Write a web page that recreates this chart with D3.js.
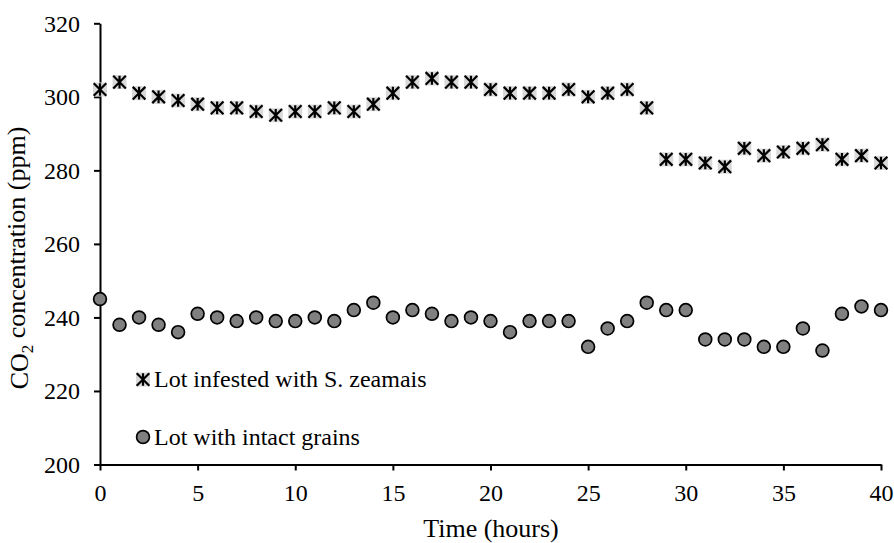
<!DOCTYPE html>
<html>
<head>
<meta charset="utf-8">
<script src="https://cdn.jsdelivr.net/npm/d3@7"></script>
<style>
  html, body { margin: 0; padding: 0; background: #fff; }
  svg { display: block; }
  svg text { font-family: "Liberation Serif", "Times New Roman", serif; fill: #000; }
</style>
</head>
<body>
<svg id="chart" width="894" height="543"></svg>
<script>
// ---- data ----
const hours = [0,1,2,3,4,5,6,7,8,9,10,11,12,13,14,15,16,17,18,19,20,21,22,23,24,25,26,27,28,29,30,31,32,33,34,35,36,37,38,39,40];
const infested = [302,304,301,300,299,298,297,297,296,295,296,296,297,296,298,301,304,305,304,304,302,301,301,301,302,300,301,302,297,283,283,282,281,286,284,285,286,287,283,284,282];
const intact = [245,238,240,238,236,241,240,239,240,239,239,240,239,242,244,240,242,241,239,240,239,236,239,239,239,232,237,239,244,242,242,234,234,234,232,232,237,231,241,243,242];
const xTicks = [0,5,10,15,20,25,30,35,40];
const yTicks = [200,220,240,260,280,300,320];
const seriesNames = ["Lot infested with S. zeamais", "Lot with intact grains"];

// ---- layout ----
const FONT = '"Liberation Serif", "Times New Roman", serif';
const svg = d3.select("#chart");
const x = d3.scaleLinear().domain([0, 40]).range([100, 881]);
const y = d3.scaleLinear().domain([200, 320]).range([464.5, 23.3]);

// axes
const yAxis = svg.append("g")
  .attr("transform", `translate(${x(0)},0)`)
  .call(d3.axisLeft(y).tickValues(yTicks).tickSize(6).tickSizeOuter(0).tickPadding(14));
const xAxis = svg.append("g")
  .attr("transform", `translate(0,${y(200)})`)
  .call(d3.axisBottom(x).tickValues(xTicks).tickSize(6).tickSizeOuter(0).tickPadding(13));

[yAxis, xAxis].forEach(g => {
  g.attr("font-family", FONT).attr("font-size", 24);
  g.select(".domain").attr("stroke", "#000").attr("stroke-width", 2);
  g.selectAll(".tick line").attr("stroke", "#000").attr("stroke-width", 2);
  g.selectAll(".tick text")
    .attr("fill", "#000")
    .style("font-family", FONT)
    .style("font-size", "24px");
});
yAxis.selectAll(".tick text").attr("dy", "0.33em");

// axis titles
svg.append("text")
  .attr("x", 491).attr("y", 537)
  .attr("text-anchor", "middle")
  .style("font-family", FONT)
  .style("font-size", "26px")
  .text("Time (hours)");

const yt = svg.append("text")
  .attr("transform", "translate(28,258) rotate(-90)")
  .attr("text-anchor", "middle")
  .style("font-family", FONT)
  .style("font-size", "26px");
yt.append("tspan").text("CO");
yt.append("tspan").attr("dy", "0.3em").style("font-size", "17px").text("2");
yt.append("tspan").attr("dy", "-0.3em").text(" concentration (ppm)");

// marker helpers
function drawStar(g, cx, cy) {
  const s = g.append("g").attr("transform", `translate(${cx},${cy})`);
  s.append("rect").attr("x", -7).attr("y", -7).attr("width", 14).attr("height", 14).attr("fill", "#d9d9d9");
  const r = 6.3;
  s.append("path")
    .attr("d", `M0,${-r}L0,${r}M${-r},${-r}L${r},${r}M${-r},${r}L${r},${-r}`)
    .attr("stroke", "#000").attr("stroke-width", 2.2).attr("fill", "none");
}
function drawCircle(g, cx, cy) {
  g.append("circle").attr("cx", cx).attr("cy", cy).attr("r", 6.4)
    .attr("fill", "#808080").attr("stroke", "#000").attr("stroke-width", 1.7);
}

// series
const gInf = svg.append("g");
hours.forEach((h, i) => drawStar(gInf, x(h), y(infested[i])));
const gInt = svg.append("g");
hours.forEach((h, i) => drawCircle(gInt, x(h), y(intact[i])));

// legend
const lg = svg.append("g");
drawStar(lg, 143, 379.5);
lg.append("text").attr("x", 154).attr("y", 387).style("font-family", FONT).style("font-size", "24px").text(seriesNames[0]);
drawCircle(lg, 143, 437);
lg.append("text").attr("x", 154).attr("y", 445).style("font-family", FONT).style("font-size", "24px").text(seriesNames[1]);
</script>
</body>
</html>
